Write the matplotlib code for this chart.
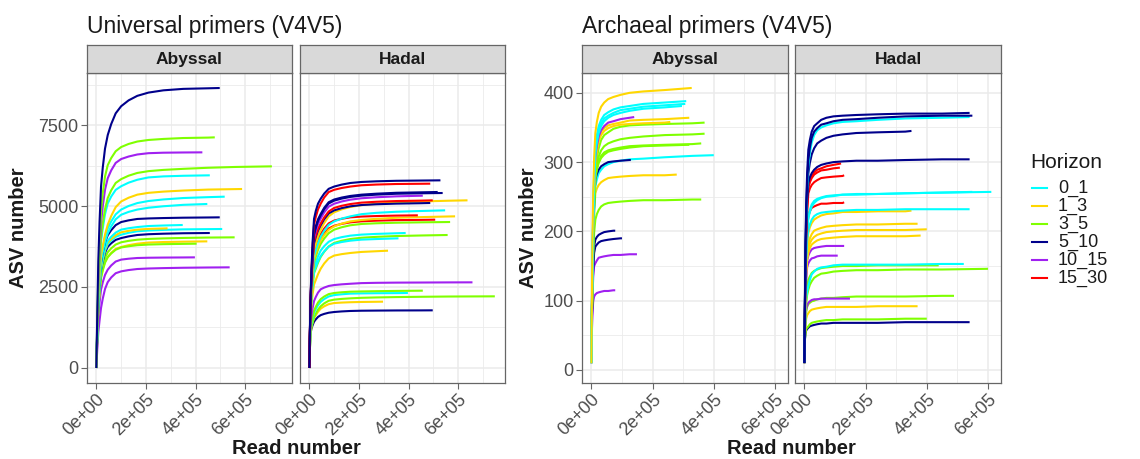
import matplotlib
matplotlib.use("Agg")
import matplotlib.pyplot as plt
from matplotlib.lines import Line2D
from matplotlib.ticker import FixedLocator, FuncFormatter
import numpy as np

plt.rcParams['font.family'] = ['Liberation Sans', 'DejaVu Sans']

# ---------------- data ----------------
HORIZONS = ["0_1", "1_3", "3_5", "5_10", "10_15", "15_30"]
HORIZON_COLORS = ["#00FFFF", "#FFD700", "#7FFF00", "#00008B", "#A020F0", "#FF0000"]

UNI_GRID = [0, 4, 8, 13, 19, 26, 35, 46, 60, 78, 100, 130, 165, 210, 270, 350, 450, 560]
ARC_GRID = [0, 2, 4, 6, 9, 13, 18, 24, 32, 42, 55, 72, 95, 125, 170, 240, 330, 450]

# (horizon, final read number in thousands, ASVs at grid points below the end, then at the end)
UNI_ABYSSAL = [
    ("10_15", 537, [0, 600, 1100, 1460, 1854, 2143, 2438, 2651, 2795, 2925, 2983, 3023, 3055, 3071, 3083, 3094, 3102, 3107]),
    ("10_15", 397, [0, 900, 1600, 2020, 2420, 2646, 2872, 3035, 3165, 3286, 3345, 3373, 3395, 3403, 3408, 3412, 3415]),
    ("1_3", 447, [0, 1000, 1800, 2340, 2825, 3060, 3278, 3421, 3553, 3676, 3735, 3791, 3837, 3871, 3888, 3899, 3909]),
    ("3_5", 404, [0, 1000, 1800, 2310, 2775, 3010, 3250, 3422, 3536, 3650, 3720, 3758, 3790, 3810, 3822, 3831, 3837]),
    ("3_5", 557, [0, 1050, 1900, 2440, 2925, 3160, 3400, 3573, 3693, 3810, 3880, 3924, 3960, 3984, 4000, 4014, 4026, 4033]),
    ("5_10", 457, [0, 1100, 1950, 2520, 3037, 3296, 3558, 3741, 3850, 3954, 4010, 4062, 4105, 4129, 4145, 4159, 4166, 4167]),
    ("0_1", 507, [0, 1100, 1950, 2520, 3050, 3332, 3620, 3822, 3936, 4048, 4115, 4173, 4220, 4244, 4262, 4279, 4286, 4290]),
    ("1_3", 287, [0, 1100, 2000, 2570, 3100, 3382, 3670, 3871, 3980, 4099, 4190, 4234, 4270, 4294, 4306, 4311]),
    ("0_1", 348, [0, 1100, 2000, 2600, 3150, 3432, 3720, 3924, 4049, 4179, 4270, 4314, 4350, 4382, 4398, 4414]),
    ("5_10", 497, [0, 1150, 2100, 2700, 3264, 3572, 3879, 4096, 4254, 4410, 4505, 4557, 4600, 4616, 4628, 4639, 4646, 4650]),
    ("0_1", 447, [0, 1150, 2100, 2730, 3300, 3582, 3896, 4157, 4372, 4590, 4730, 4818, 4890, 4946, 4992, 5036, 5062]),
    ("0_1", 517, [0, 1200, 2200, 2830, 3412, 3718, 4048, 4311, 4524, 4743, 4890, 5000, 5090, 5154, 5202, 5246, 5273, 5288]),
    ("1_3", 587, [0, 1200, 2200, 2860, 3462, 3768, 4118, 4422, 4692, 4965, 5140, 5255, 5350, 5406, 5444, 5477, 5507, 5521, 5525]),
    ("0_1", 457, [0, 1300, 2400, 3180, 3912, 4312, 4746, 5081, 5294, 5498, 5610, 5720, 5810, 5882, 5914, 5933, 5946, 5947]),
    ("3_5", 707, [0, 1300, 2400, 3240, 4025, 4450, 4900, 5246, 5485, 5711, 5830, 5935, 6020, 6076, 6114, 6147, 6180, 6205, 6224]),
    ("10_15", 427, [0, 1400, 2600, 3560, 4475, 4990, 5500, 5857, 6100, 6330, 6450, 6527, 6590, 6630, 6645, 6652, 6656]),
    ("3_5", 477, [0, 1500, 2800, 3880, 4875, 5390, 5910, 6260, 6480, 6690, 6820, 6915, 6990, 7038, 7070, 7098, 7111, 7119]),
    ("5_10", 497, [0, 1700, 3300, 4500, 5600, 6190, 6770, 7190, 7530, 7860, 8080, 8260, 8400, 8500, 8570, 8615, 8633, 8642]),
]

UNI_HADAL = [
    ("5_10", 497, [0, 1000, 1200, 1314, 1428, 1500, 1576, 1632, 1670, 1706, 1728, 1746, 1760, 1768, 1772, 1776, 1778, 1780]),
    ("1_3", 297, [0, 950, 1250, 1400, 1545, 1630, 1736, 1834, 1904, 1970, 2005, 2019, 2030, 2038, 2044, 2047]),
    ("3_5", 747, [0, 950, 1250, 1400, 1560, 1673, 1800, 1907, 1995, 2075, 2110, 2132, 2150, 2166, 2178, 2189, 2198, 2206, 2212]),
    ("0_1", 397, [0, 1000, 1350, 1530, 1708, 1816, 1938, 2042, 2127, 2208, 2250, 2275, 2295, 2303, 2308, 2311, 2315]),
    ("3_5", 457, [0, 1050, 1400, 1580, 1765, 1887, 2020, 2126, 2206, 2280, 2315, 2337, 2355, 2363, 2371, 2379, 2386, 2387]),
    ("10_15", 657, [0, 1200, 1600, 1840, 2066, 2191, 2327, 2430, 2482, 2532, 2560, 2582, 2600, 2620, 2629, 2635, 2638, 2642, 2644]),
    ("1_3", 317, [0, 1300, 1900, 2260, 2575, 2716, 2894, 3066, 3227, 3383, 3470, 3514, 3550, 3582, 3604, 3621]),
    ("3_5", 557, [0, 1400, 2050, 2530, 2925, 3066, 3250, 3430, 3589, 3751, 3860, 3926, 3980, 4020, 4048, 4073, 4090, 4105]),
    ("0_1", 359, [0, 1450, 2100, 2580, 2975, 3116, 3292, 3458, 3601, 3745, 3837, 3888, 3930, 3962, 3980, 4000, 4002]),
    ("0_1", 388, [0, 1500, 2200, 2680, 3088, 3252, 3450, 3626, 3761, 3896, 3980, 4038, 4085, 4117, 4139, 4158, 4167]),
    ("3_5", 567, [0, 1500, 2250, 2790, 3250, 3438, 3650, 3832, 3995, 4161, 4270, 4344, 4405, 4445, 4467, 4484, 4496, 4505, 4506]),
    ("15_30", 507, [0, 1600, 2350, 2920, 3400, 3588, 3800, 3982, 4148, 4306, 4390, 4448, 4495, 4527, 4547, 4564, 4572, 4578]),
    ("1_3", 587, [0, 1550, 2300, 2870, 3350, 3538, 3758, 3950, 4106, 4265, 4370, 4455, 4525, 4569, 4604, 4637, 4657, 4677, 4681]),
    ("15_30", 437, [0, 1650, 2450, 3050, 3550, 3738, 3950, 4133, 4302, 4463, 4550, 4605, 4650, 4674, 4690, 4704, 4712]),
    ("0_1", 547, [0, 1600, 2400, 2970, 3450, 3638, 3858, 4055, 4237, 4416, 4525, 4610, 4680, 4748, 4789, 4822, 4846, 4866]),
    ("1_3", 637, [0, 1650, 2500, 3130, 3650, 3838, 4058, 4261, 4474, 4682, 4805, 4896, 4970, 5026, 5070, 5111, 5140, 5163, 5175]),
    ("5_10", 487, [0, 1750, 2650, 3310, 3850, 4038, 4238, 4406, 4593, 4770, 4865, 4934, 4990, 5030, 5054, 5073, 5086, 5093]),
    ("15_30", 497, [0, 1750, 2650, 3340, 3900, 4088, 4290, 4461, 4648, 4831, 4940, 5006, 5060, 5104, 5131, 5153, 5166, 5175]),
    ("10_15", 457, [0, 1750, 2700, 3420, 4012, 4224, 4442, 4616, 4803, 4979, 5070, 5139, 5195, 5239, 5270, 5298, 5317, 5319]),
    ("5_10", 537, [0, 1800, 2750, 3500, 4112, 4324, 4542, 4716, 4903, 5078, 5165, 5228, 5280, 5320, 5350, 5378, 5392, 5401]),
    ("5_10", 517, [0, 1800, 2800, 3550, 4162, 4374, 4588, 4756, 4943, 5116, 5200, 5260, 5310, 5350, 5380, 5408, 5422, 5432]),
    ("15_30", 487, [0, 1850, 2850, 3720, 4425, 4660, 4896, 5076, 5263, 5430, 5500, 5555, 5600, 5640, 5662, 5679, 5686, 5689]),
    ("5_10", 528, [0, 1900, 2930, 3857, 4604, 4846, 5072, 5226, 5384, 5530, 5600, 5660, 5710, 5742, 5762, 5778, 5786, 5792]),
]

ARC_ABYSSAL = [
    ("10_15", 78, [10, 60, 85, 99, 106, 109, 111, 112, 113, 114, 114, 115, 115]),
    ("10_15", 149, [10, 75, 111, 134, 150, 154, 158, 162, 163, 164, 165, 166, 166, 167, 167]),
    ("5_10", 100, [10, 80, 120, 147, 169, 178, 181, 184, 186, 187, 188, 189, 190, 190]),
    ("5_10", 78, [10, 80, 123, 154, 179, 188, 192, 195, 197, 199, 200, 201, 201]),
    ("3_5", 359, [10, 85, 132, 166, 198, 217, 225, 231, 236, 239, 241, 242, 243, 244, 245, 245, 246, 246]),
    ("1_3", 279, [10, 90, 140, 180, 223, 255, 262, 267, 271, 274, 277, 278, 279, 280, 281, 281, 282]),
    ("0_1", 400, [10, 90, 144, 185, 230, 265, 275, 284, 289, 294, 297, 300, 302, 304, 305, 307, 309, 310]),
    ("5_10", 129, [10, 90, 148, 192, 240, 275, 283, 289, 294, 297, 300, 301, 302, 303, 303]),
    ("3_5", 320, [10, 90, 148, 191, 238, 277, 289, 299, 306, 311, 315, 317, 319, 321, 323, 324, 325]),
    ("3_5", 359, [10, 90, 151, 195, 241, 279, 291, 301, 309, 314, 317, 319, 321, 323, 324, 325, 326, 327]),
    ("3_5", 370, [10, 90, 151, 197, 246, 284, 297, 308, 317, 323, 327, 330, 333, 335, 337, 339, 340, 341]),
    ("3_5", 370, [10, 90, 155, 202, 251, 289, 306, 320, 332, 339, 343, 348, 351, 353, 354, 355, 356, 357]),
    ("1_3", 258, [10, 95, 160, 209, 261, 299, 316, 330, 339, 345, 349, 352, 354, 355, 356, 357, 358]),
    ("1_3", 320, [10, 95, 163, 214, 266, 304, 321, 335, 344, 349, 353, 355, 357, 360, 361, 362, 364]),
    ("10_15", 140, [10, 100, 168, 219, 271, 308, 324, 337, 346, 352, 357, 359, 362, 364, 365]),
    ("0_1", 296, [10, 100, 168, 219, 272, 313, 329, 342, 352, 359, 364, 368, 371, 374, 377, 379, 381]),
    ("0_1", 307, [10, 100, 172, 224, 277, 318, 334, 347, 356, 363, 367, 371, 375, 377, 380, 382, 384]),
    ("0_1", 310, [10, 100, 172, 226, 282, 323, 339, 352, 361, 368, 372, 376, 379, 381, 384, 386, 388]),
    ("1_3", 328, [10, 120, 199, 254, 306, 342, 358, 371, 380, 386, 391, 394, 397, 400, 402, 404, 407]),
]

ARC_HADAL = [
    ("5_10", 540, [10, 45, 53, 57, 59, 61, 63, 64, 65, 66, 67, 67, 68, 68, 68, 68, 69, 69, 69]),
    ("3_5", 400, [10, 45, 54, 59, 61, 63, 66, 68, 69, 70, 71, 72, 72, 73, 73, 73, 74, 74]),
    ("1_3", 370, [10, 50, 66, 74, 79, 82, 85, 87, 88, 89, 90, 91, 91, 91, 91, 92, 92, 92]),
    ("3_5", 489, [10, 55, 73, 84, 91, 95, 97, 99, 100, 102, 103, 104, 104, 105, 106, 106, 106, 107, 107]),
    ("10_15", 149, [10, 55, 77, 88, 93, 97, 99, 101, 102, 102, 103, 103, 103, 103, 103]),
    ("3_5", 600, [10, 60, 82, 96, 108, 116, 123, 128, 133, 136, 139, 140, 142, 143, 144, 144, 145, 145, 146]),
    ("3_5", 439, [10, 65, 90, 106, 119, 130, 135, 140, 143, 145, 147, 148, 149, 150, 150, 151, 151, 151]),
    ("0_1", 521, [10, 65, 90, 104, 113, 121, 130, 138, 142, 146, 148, 149, 151, 152, 152, 152, 152, 153, 153]),
    ("10_15", 109, [10, 70, 106, 130, 148, 154, 158, 161, 162, 164, 165, 165, 165, 165]),
    ("10_15", 130, [10, 75, 115, 140, 158, 165, 170, 174, 176, 177, 178, 179, 179, 179, 179]),
    ("1_3", 380, [10, 75, 115, 140, 159, 169, 176, 181, 184, 187, 189, 190, 191, 192, 193, 193, 193, 194]),
    ("1_3", 400, [10, 75, 118, 145, 165, 176, 183, 188, 192, 195, 197, 199, 200, 201, 202, 202, 202, 203]),
    ("1_3", 370, [10, 80, 123, 150, 170, 183, 190, 196, 201, 203, 205, 207, 208, 209, 210, 210, 211, 211]),
    ("1_3", 350, [10, 80, 127, 157, 182, 198, 206, 212, 217, 220, 223, 225, 226, 228, 228, 229, 229, 230]),
    ("0_1", 540, [10, 80, 130, 162, 187, 202, 210, 217, 222, 225, 227, 228, 229, 230, 231, 231, 232, 232, 232]),
    ("15_30", 130, [10, 85, 139, 174, 203, 222, 229, 234, 236, 238, 240, 240, 241, 241, 242]),
    ("0_1", 549, [10, 85, 139, 173, 200, 219, 228, 236, 241, 245, 248, 250, 251, 253, 253, 254, 255, 256, 257]),
    ("0_1", 611, [10, 85, 139, 174, 203, 222, 231, 239, 244, 247, 249, 251, 252, 253, 254, 254, 255, 256, 257]),
    ("15_30", 130, [10, 90, 151, 191, 227, 255, 262, 267, 271, 274, 277, 278, 279, 280, 281]),
    ("15_30", 116, [10, 95, 156, 198, 236, 263, 271, 277, 282, 285, 288, 289, 291, 292]),
    ("15_30", 120, [10, 95, 160, 203, 240, 265, 273, 279, 285, 289, 291, 294, 296, 298]),
    ("5_10", 540, [10, 100, 165, 208, 246, 270, 278, 284, 289, 293, 296, 298, 300, 301, 302, 302, 303, 304, 304]),
    ("5_10", 350, [10, 100, 172, 216, 253, 284, 299, 311, 320, 327, 331, 335, 338, 340, 342, 343, 344, 345]),
    ("0_1", 540, [10, 100, 172, 218, 260, 294, 313, 328, 339, 346, 350, 353, 356, 358, 359, 361, 363, 364, 365]),
    ("5_10", 549, [10, 105, 181, 228, 269, 303, 321, 335, 344, 349, 354, 356, 359, 361, 362, 364, 366, 367, 367]),
    ("5_10", 540, [10, 110, 189, 240, 284, 318, 332, 344, 352, 356, 361, 364, 366, 367, 368, 369, 370, 370, 371]),
]

X_TICKS = [0, 200000, 400000, 600000]
UNI_Y_TICKS = [0, 2500, 5000, 7500]
ARC_Y_TICKS = [0, 100, 200, 300, 400]
FACETS = ["Abyssal", "Hadal"]

# ---------------- layout ----------------
W, H = 1140, 459
fig = plt.figure(figsize=(W / 100, H / 100), dpi=100)
COLOR_OF = dict(zip(HORIZONS, HORIZON_COLORS))
BORDER = "#666666"
GRID = "#ebebeb"


def px_axes(left, top, right, bottom):
    return [left / W, 1 - bottom / H, (right - left) / W, (bottom - top) / H]


def curve_xy(grid, end, ys):
    xs = [g for g in grid if g < end] + [end]
    n = min(len(xs), len(ys))
    return np.array(xs[:n]) * 1000.0, np.array(ys[:n])


def draw_panel(ax, curves, grid, xlim, ylim, yticks, yminor, show_y):
    ax.set_facecolor("white")
    ax.set_xlim(*xlim)
    ax.set_ylim(*ylim)
    ax.xaxis.set_major_locator(FixedLocator(X_TICKS))
    ax.xaxis.set_minor_locator(FixedLocator([100000, 300000, 500000, 700000]))
    ax.yaxis.set_major_locator(FixedLocator(yticks))
    ax.yaxis.set_minor_locator(FixedLocator(yminor))
    ax.grid(which="major", color=GRID, lw=1.1, zorder=0)
    ax.grid(which="minor", color=GRID, lw=0.6, zorder=0)
    ax.set_axisbelow(True)
    for h, end, ys in curves:
        x, y = curve_xy(grid, end, ys)
        ax.plot(x, y, color=COLOR_OF[h], lw=1.5, solid_capstyle="butt",
                solid_joinstyle="round", zorder=2)
    for s in ax.spines.values():
        s.set_color(BORDER)
        s.set_linewidth(0.9)
        s.set_zorder(5)
    ax.xaxis.set_major_formatter(FuncFormatter(lambda v, p: format(v, ".0e")))
    ax.tick_params(axis="x", which="major", length=4, width=0.8, color=BORDER,
                   labelsize=13, pad=2, labelcolor="#4d4d4d")
    ax.tick_params(which="minor", length=0)
    for lab in ax.get_xticklabels():
        lab.set_rotation(45)
        lab.set_ha("right")
        lab.set_va("top")
        lab.set_rotation_mode("anchor")
    if show_y:
        ax.tick_params(axis="y", which="major", length=4, width=0.8, color=BORDER,
                       labelsize=13, pad=2, labelcolor="#4d4d4d")
    else:
        ax.tick_params(axis="y", which="major", length=0, labelleft=False)


def draw_strip(left, right, text):
    sax = fig.add_axes(px_axes(left, 45, right, 73))
    sax.set_facecolor("#d9d9d9")
    sax.set_xticks([])
    sax.set_yticks([])
    for s in sax.spines.values():
        s.set_color(BORDER)
        s.set_linewidth(0.9)
    sax.text(0.5, 0.47, text, transform=sax.transAxes, ha="center", va="center",
             fontsize=12.5, fontweight="bold", color="#1a1a1a")


charts = [
    dict(title="Universal primers (V4V5)", data=[UNI_ABYSSAL, UNI_HADAL], grid=UNI_GRID,
         panels=[(87, 292), (300, 505)], xlim=(-37500, 788000), ylim=(-463, 9105),
         yticks=UNI_Y_TICKS, yminor=[1250, 3750, 6250, 8750], ylab_x=19),
    dict(title="Archaeal primers (V4V5)", data=[ARC_ABYSSAL, ARC_HADAL], grid=ARC_GRID,
         panels=[(582, 788), (795, 1001)], xlim=(-30600, 642600), ylim=(-18.8, 428.6),
         yticks=ARC_Y_TICKS, yminor=[50, 150, 250, 350], ylab_x=528),
]

for ch in charts:
    for i, ((l, r), curves) in enumerate(zip(ch["panels"], ch["data"])):
        ax = fig.add_axes(px_axes(l, 73, r, 383))
        draw_panel(ax, curves, ch["grid"], ch["xlim"], ch["ylim"], ch["yticks"],
                   ch["yminor"], i == 0)
        draw_strip(l, r, FACETS[i])
    l0 = ch["panels"][0][0]
    r1 = ch["panels"][1][1]
    fig.text(l0 / W, 1 - 26 / H, ch["title"], ha="left", va="center", fontsize=16.5,
             color="#1a1a1a")
    fig.text((l0 + r1) / 2 / W, 1 - 448 / H, "Read number", ha="center", va="center",
             fontsize=14.5, fontweight="bold", color="#1a1a1a")
    fig.text(ch["ylab_x"] / W, 1 - 228 / H, "ASV number", ha="center", va="center",
             rotation=90, fontsize=14.5, fontweight="bold", color="#1a1a1a")

# ---------------- legend ----------------
leg_x = 1030
fig.text(leg_x / W, 1 - 162 / H, "Horizon", ha="left", va="center", fontsize=15,
         color="#1a1a1a")
for k, (h, c) in enumerate(zip(HORIZONS, HORIZON_COLORS)):
    yy = 1 - (188 + k * 18) / H
    fig.add_artist(Line2D([(leg_x + 2) / W, (leg_x + 17) / W], [yy, yy], color=c,
                          lw=1.5, transform=fig.transFigure))
    fig.text((leg_x + 28) / W, yy, h, ha="left", va="center", fontsize=13,
             color="#1a1a1a")

fig.savefig("out.png", dpi=100, facecolor="white")
